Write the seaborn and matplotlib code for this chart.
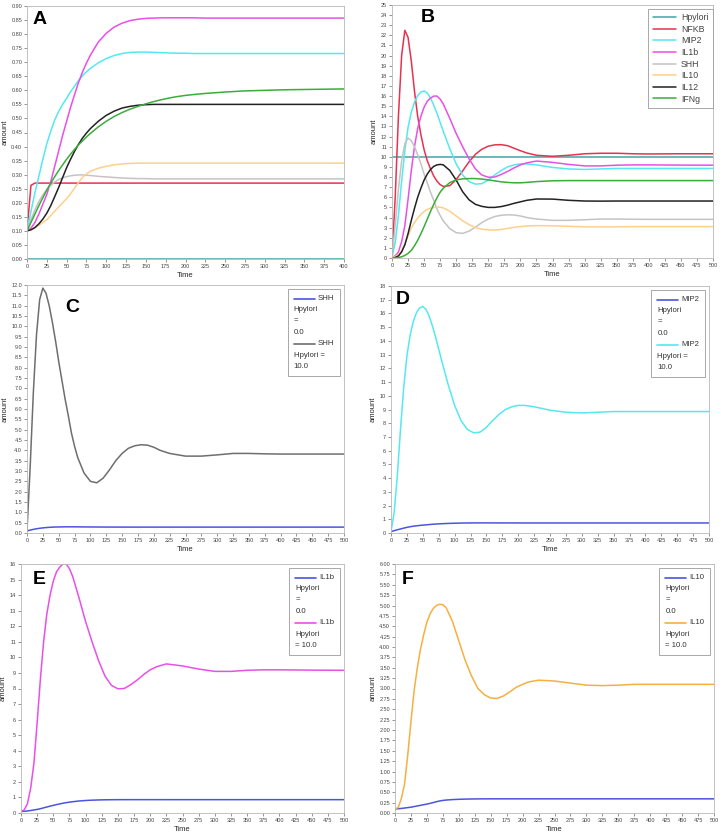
import numpy as np
import matplotlib
matplotlib.use("Agg")
import matplotlib.pyplot as plt
import seaborn as sns
from matplotlib.ticker import MultipleLocator, FormatStrFormatter
from matplotlib.offsetbox import AnchoredOffsetbox, VPacker, HPacker, DrawingArea, TextArea
from matplotlib.lines import Line2D

# time grid shared by every series
T = [0, 5, 10, 15, 20, 25, 30, 35, 40, 45, 50, 55, 60, 65, 70, 75, 80,
     90, 100, 110, 120, 130, 140, 150, 160, 170, 180, 190, 200, 210,
     225, 250, 275, 300, 325, 350, 375, 400, 450, 500]

# --- Hpylori = 0 (panel A, blue lines in C-F)
A_Hpylori = [0.0] * 40
A_NFKB = [0.10, 0.262, 0.27] + [0.27] * 37
A_MIP2 = [0.10, 0.17, 0.235, 0.295, 0.355, 0.41, 0.455, 0.495, 0.525, 0.55, 0.572, 0.595,
          0.615, 0.635, 0.652, 0.666, 0.678, 0.698, 0.713, 0.724, 0.731, 0.735, 0.736, 0.736,
          0.735, 0.734, 0.733, 0.732, 0.732, 0.731, 0.731, 0.731, 0.731, 0.731, 0.731, 0.731,
          0.731, 0.731, 0.731, 0.731]
A_IL1b = [0.10, 0.11, 0.13, 0.16, 0.195, 0.23, 0.275, 0.33, 0.385, 0.44, 0.49, 0.54,
          0.585, 0.628, 0.665, 0.697, 0.725, 0.772, 0.803, 0.825, 0.839, 0.848, 0.853, 0.856,
          0.857, 0.858, 0.858, 0.858, 0.858, 0.858, 0.857, 0.857, 0.857, 0.857, 0.857, 0.857,
          0.857, 0.857, 0.857, 0.857]
A_SHH = [0.10, 0.14, 0.175, 0.205, 0.228, 0.248, 0.262, 0.274, 0.283, 0.289, 0.293, 0.296,
         0.298, 0.299, 0.299, 0.298, 0.297, 0.294, 0.292, 0.29, 0.288, 0.287, 0.286, 0.286,
         0.285, 0.285, 0.285, 0.285, 0.285, 0.285, 0.285, 0.285, 0.285, 0.285, 0.285, 0.285,
         0.285, 0.285, 0.285, 0.285]
A_IL10 = [0.10, 0.103, 0.11, 0.12, 0.13, 0.14, 0.155, 0.17, 0.185, 0.20, 0.215, 0.232,
          0.252, 0.272, 0.29, 0.303, 0.312, 0.323, 0.33, 0.335, 0.338, 0.34, 0.341, 0.341,
          0.341, 0.341, 0.341, 0.341, 0.341, 0.341, 0.341, 0.341, 0.341, 0.341, 0.341, 0.341,
          0.341, 0.341, 0.341, 0.341]
A_IL12 = [0.10, 0.104, 0.112, 0.125, 0.142, 0.163, 0.19, 0.222, 0.255, 0.29, 0.325, 0.355,
          0.383, 0.408, 0.43, 0.448, 0.464, 0.49, 0.511, 0.526, 0.537, 0.543, 0.547, 0.549,
          0.55, 0.55, 0.55, 0.55, 0.55, 0.55, 0.55, 0.55, 0.55, 0.55, 0.55, 0.55,
          0.55, 0.55, 0.55, 0.55]
A_IFNg = [0.10, 0.13, 0.16, 0.19, 0.218, 0.245, 0.27, 0.293, 0.315, 0.335, 0.355, 0.373,
          0.39, 0.406, 0.42, 0.434, 0.447, 0.47, 0.49, 0.507, 0.521, 0.533, 0.543, 0.552,
          0.56, 0.567, 0.573, 0.578, 0.582, 0.585, 0.589, 0.594, 0.598, 0.60, 0.602, 0.603,
          0.604, 0.605, 0.605, 0.605]

# --- Hpylori = 10 (panel B, second lines in C-F)
B_Hpylori = [10.0] * 40
B_NFKB = [0.0, 6.0, 14.0, 20.0, 22.5, 21.8, 19.5, 16.5, 14.0, 12.2, 10.7, 9.6,
          8.8, 8.1, 7.6, 7.25, 7.07, 7.15, 7.75, 8.6, 9.5, 10.25, 10.75, 11.05,
          11.18, 11.2, 11.1, 10.85, 10.6, 10.38, 10.15, 10.05, 10.15, 10.3, 10.35, 10.35,
          10.3, 10.28, 10.3, 10.3]
B_MIP2 = [0.1, 1.5, 4.2, 7.6, 10.6, 12.9, 14.4, 15.4, 16.05, 16.4, 16.5, 16.3,
          15.8, 15.1, 14.3, 13.4, 12.5, 10.8, 9.3, 8.2, 7.55, 7.3, 7.35, 7.7,
          8.2, 8.65, 9.0, 9.2, 9.3, 9.3, 9.2, 8.95, 8.8, 8.75, 8.8, 8.85,
          8.85, 8.85, 8.85, 8.85]
B_IL1b = [0.1, 0.2, 0.6, 1.6, 3.2, 5.8, 8.6, 11.0, 12.8, 14.0, 14.9, 15.5,
          15.8, 16.0, 16.0, 15.7, 15.2, 13.8, 12.3, 11.0, 9.8, 8.8, 8.2, 7.98,
          8.0, 8.25, 8.55, 8.9, 9.2, 9.4, 9.58, 9.45, 9.25, 9.1, 9.1, 9.17,
          9.2, 9.2, 9.18, 9.17]
B_SHH = [0.1, 3.2, 6.8, 9.6, 11.3, 11.85, 11.6, 11.0, 10.2, 9.3, 8.3, 7.4,
         6.5, 5.7, 4.85, 4.2, 3.65, 2.9, 2.5, 2.43, 2.65, 3.05, 3.5, 3.85,
         4.1, 4.22, 4.27, 4.25, 4.15, 4.0, 3.85, 3.72, 3.72, 3.78, 3.85, 3.85,
         3.83, 3.82, 3.82, 3.82]
B_IL10 = [0.1, 0.13, 0.35, 0.7, 1.4, 2.2, 2.95, 3.5, 3.95, 4.3, 4.6, 4.8,
          4.93, 5.0, 5.03, 5.02, 4.95, 4.62, 4.15, 3.68, 3.3, 3.0, 2.85, 2.77,
          2.76, 2.82, 2.92, 3.03, 3.1, 3.16, 3.2, 3.18, 3.13, 3.08, 3.07, 3.08,
          3.1, 3.1, 3.1, 3.1]
B_IL12 = [0.0, 0.05, 0.2, 0.6, 1.3, 2.4, 3.7, 4.9, 6.0, 6.9, 7.7, 8.3,
          8.75, 9.05, 9.2, 9.25, 9.2, 8.65, 7.7, 6.55, 5.75, 5.3, 5.1, 5.0,
          5.0, 5.08, 5.22, 5.4, 5.55, 5.7, 5.83, 5.82, 5.7, 5.63, 5.62, 5.63,
          5.63, 5.63, 5.63, 5.63]
B_IFNg = [0.0, 0.01, 0.05, 0.12, 0.25, 0.45, 0.75, 1.2, 1.75, 2.4, 3.1, 3.85,
          4.6, 5.3, 5.95, 6.5, 6.9, 7.45, 7.72, 7.82, 7.85, 7.85, 7.8, 7.72,
          7.62, 7.53, 7.47, 7.43, 7.43, 7.47, 7.55, 7.63, 7.65, 7.65, 7.65, 7.65,
          7.65, 7.65, 7.65, 7.65]

SPECIES = ['Hpylori', 'NFKB', 'MIP2', 'IL1b', 'SHH', 'IL10', 'IL12', 'IFNg']
COLORS = ['#3fa7a7', '#e8314f', '#55e8f0', '#e850e8', '#c4c4c4', '#fdd08c', '#222222', '#3aad3a']
A_SERIES = [A_Hpylori, A_NFKB, A_MIP2, A_IL1b, A_SHH, A_IL10, A_IL12, A_IFNg]
B_SERIES = [B_Hpylori, B_NFKB, B_MIP2, B_IL1b, B_SHH, B_IL10, B_IL12, B_IFNg]

BLUE = '#4a55dd'

sns.set_style("white")
plt.rcParams['font.family'] = ['Liberation Sans', 'DejaVu Sans']

fig = plt.figure(figsize=(7.22, 8.33), dpi=100)
W, H = 722, 833


def make_ax(left, right, top, bottom):
    ax = fig.add_axes([left / W, (H - bottom) / H, (right - left) / W, (bottom - top) / H])
    for sp in ax.spines.values():
        sp.set_color('#b8b8b8')
        sp.set_linewidth(0.6)
    ax.tick_params(labelsize=4, colors='#444444', length=2, width=0.4, pad=1.5,
                   bottom=True, left=True)
    ax.set_xlabel('Time', fontsize=5.5, labelpad=2)
    ax.set_ylabel('amount', fontsize=5.5, labelpad=2)
    return ax


def pair_legend(ax, name, colors, tails):
    rows = []
    tp = dict(size=5.6, color='#333333')
    for col, tail in zip(colors, tails):
        da = DrawingArea(15, 5)
        da.add_artist(Line2D([0, 15], [2.5, 2.5], color=col, lw=1.2))
        rows.append(HPacker(children=[da, TextArea(name, textprops=tp)], pad=0, sep=2, align='center'))
        for part in tail:
            rows.append(TextArea(part, textprops=tp))
    box = VPacker(children=rows, pad=0, sep=3.1, align='left')
    anc = AnchoredOffsetbox(loc='upper right', child=box, pad=0.8, borderpad=0.5,
                            frameon=True, prop=dict(size=5.6))
    anc.patch.set_edgecolor('#9a9a9a')
    anc.patch.set_linewidth(0.6)
    anc.patch.set_boxstyle('square', pad=0)
    ax.add_artist(anc)


# Panel A
axA = make_ax(27, 344, 6, 259)
for vals, col, sp in zip(A_SERIES, COLORS, SPECIES):
    sns.lineplot(x=T, y=vals, ax=axA, color=col, lw=1.1, legend=False)
axA.set_xlim(0, 400)
axA.set_ylim(0, 0.9)
axA.xaxis.set_major_locator(MultipleLocator(25))
axA.yaxis.set_major_locator(MultipleLocator(0.05))
axA.yaxis.set_major_formatter(FormatStrFormatter('%.2f'))

# Panel B
axB = make_ax(392, 713, 5, 258)
for vals, col, sp in zip(B_SERIES, COLORS, SPECIES):
    sns.lineplot(x=T, y=vals, ax=axB, color=col, lw=1.1, label=sp)
axB.set_xlim(0, 500)
axB.set_ylim(0, 25)
axB.xaxis.set_major_locator(MultipleLocator(25))
axB.yaxis.set_major_locator(MultipleLocator(1))
leg = axB.legend(loc='upper right', bbox_to_anchor=(1.0, 0.985), borderaxespad=0,
                 fontsize=6.3, handlelength=2.7, labelspacing=0.3, handletextpad=0.55,
                 fancybox=False, edgecolor='#9a9a9a', framealpha=1, borderpad=0.5)
leg.get_frame().set_linewidth(0.6)
for t in leg.get_texts():
    t.set_color('#444444')

# Panels C-F: one species at Hpylori = 0 vs 10
pairs = [
    ('C', 'SHH', A_SHH, B_SHH, '#6e6e6e', (27, 344, 285, 533), 0.5, 12, '%.1f',
     [['Hpylori', '=', '0.0'], ['Hpylori =', '10.0']]),
    ('D', 'MIP2', A_MIP2, B_MIP2, '#55e8f0', (391, 709, 286, 533), 1, 18, '%d',
     [['Hpylori', '=', '0.0'], ['Hpylori =', '10.0']]),
    ('E', 'IL1b', A_IL1b, B_IL1b, '#e850e8', (21, 344, 564, 813), 1, 16, '%d',
     [['Hpylori', '=', '0.0'], ['Hpylori', '= 10.0']]),
    ('F', 'IL10', A_IL10, B_IL10, '#f5b041', (395, 714, 564, 813), 0.25, 6, '%.2f',
     [['Hpylori', '=', '0.0'], ['Hpylori', '= 10.0']]),
]
for letter, name, low, high, col, box, step, ymax, fmt, tails in pairs:
    ax = make_ax(*box)
    sns.lineplot(x=T, y=low, ax=ax, color=BLUE, lw=1.1, legend=False)
    sns.lineplot(x=T, y=high, ax=ax, color=col, lw=1.1, legend=False)
    ax.set_xlim(0, 500)
    ax.set_ylim(0, ymax)
    ax.xaxis.set_major_locator(MultipleLocator(25))
    ax.yaxis.set_major_locator(MultipleLocator(step))
    ax.yaxis.set_major_formatter(FormatStrFormatter(fmt))
    pair_legend(ax, name, [BLUE, col], tails)

# panel letters
for letter, x, y in [('A', 40, 20), ('B', 428, 18), ('C', 72, 307),
                     ('D', 403, 300), ('E', 39, 580), ('F', 408, 580)]:
    fig.text(x / W, 1 - y / H, letter, fontsize=14, fontweight='bold',
             ha='center', va='center', color='black')

fig.savefig('out.png', dpi=100)
